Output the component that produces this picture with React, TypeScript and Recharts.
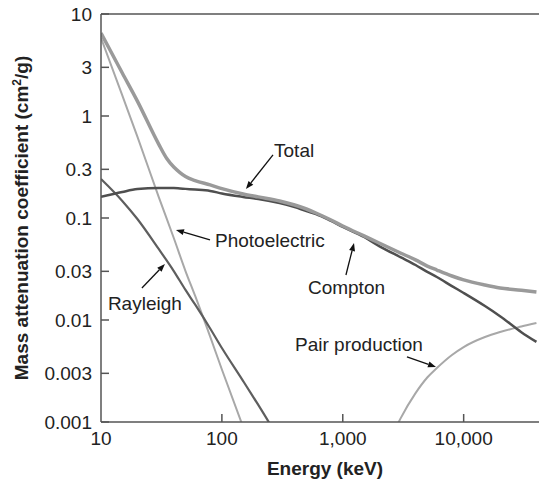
import { LineChart, Line, XAxis, YAxis, ReferenceLine, ReferenceDot, Label } from 'recharts'

// photon energy (keV) and mass attenuation coefficients (cm2/g)
const energies = [10, 15, 20, 30, 35, 40, 45, 50, 60, 80, 100, 150, 200, 300, 400, 500, 600, 800, 1000, 1500, 2000, 3000, 4000, 5000, 6000, 8000, 10000, 15000, 20000, 30000, 40000]
const totalCoef = [6.5, 2.64, 1.4, 0.53, 0.383, 0.316, 0.279, 0.255, 0.233, 0.211, 0.194, 0.172, 0.161, 0.147, 0.134, 0.1225, 0.112, 0.0955, 0.0835, 0.0667, 0.0569, 0.0454, 0.0388, 0.0338, 0.0309, 0.027, 0.0247, 0.022, 0.0206, 0.0196, 0.0188]
const comptonCoef = [0.161, 0.18, 0.192, 0.197, 0.197, 0.197, 0.195, 0.193, 0.19, 0.184, 0.174, 0.161, 0.1535, 0.14, 0.128, 0.117, 0.1095, 0.0935, 0.0817, 0.0652, 0.0531, 0.0413, 0.0346, 0.0296, 0.0264, 0.0215, 0.0184, 0.0137, 0.0109, 0.0076, 0.0061]

const photoEnergies = [10, 15, 20, 30, 40, 50, 60, 80, 100, 150]
const photoCoef = [5.82, 1.59, 0.628, 0.161, 0.0637, 0.0302, 0.0173, 0.00686, 0.00327, 0.00089]

const rayleighEnergies = [10, 15, 20, 30, 40, 50, 60, 80, 100, 150, 200, 300]
const rayleighCoef = [0.241, 0.147, 0.0977, 0.0497, 0.0302, 0.0197, 0.0142, 0.00826, 0.00531, 0.00252, 0.00147, 0.000667]

const pairEnergies = [2500, 3000, 4000, 5000, 6000, 8000, 10000, 15000, 20000, 30000, 40000]
const pairCoef = [0.000689, 0.00108, 0.00192, 0.00273, 0.00338, 0.00454, 0.00543, 0.00681, 0.00762, 0.00863, 0.00935]

const xTicks = [10, 100, 1000, 10000]
const yTicks = [0.001, 0.003, 0.01, 0.03, 0.1, 0.3, 1, 3, 10]

// annotations: label anchor and arrow (tail -> head), in data units
const labelNames = ['Total', 'Photoelectric', 'Rayleigh', 'Compton', 'Pair production']
const labelAt = [[270, 0.464], [87.7, 0.0609], [11.4, 0.0147], [515, 0.0211], [403, 0.00582]]
const arrowFrom = [[264.7, 0.415], [79.7, 0.0609], [21.8, 0.0206], [1062, 0.0276], [3396, 0.00434]]
const arrowTo = [[158, 0.192], [41.7, 0.0763], [33.8, 0.0354], [1239, 0.0569], [5903, 0.00346]]

const toRows = (xs: number[], ys: number[]) => xs.map((e, i) => ({ energy: e, value: ys[i] }))

const AXIS = '#555'
const TEXT = '#222'
const FONT = '"Liberation Sans", Arial, Helvetica, sans-serif'

function YTick({ x, y, payload }: any) {
  return (
    <g>
      <line x1={x} y1={y} x2={x + 8} y2={y} stroke={AXIS} strokeWidth={1.5} />
      <text x={x - 9} y={y} dy="0.36em" textAnchor="end" fontSize={19} fill={TEXT} fontFamily={FONT}>
        {String(payload.value)}
      </text>
    </g>
  )
}

function XTick({ x, y, payload }: any) {
  return (
    <g>
      {payload.value !== 10 && <line x1={x} y1={y} x2={x} y2={y - 8} stroke={AXIS} strokeWidth={1.5} />}
      <text x={x} y={y + 23} textAnchor="middle" fontSize={19} fill={TEXT} fontFamily={FONT}>
        {payload.value.toLocaleString('en-US')}
      </text>
    </g>
  )
}

function Arrow({ x1, y1, x2, y2 }: any) {
  const dx = x2 - x1
  const dy = y2 - y1
  const len = Math.sqrt(dx * dx + dy * dy) || 1
  const ux = dx / len
  const uy = dy / len
  const h = 8
  const w = 3
  const bx = x2 - ux * h
  const by = y2 - uy * h
  return (
    <g>
      <line x1={x1} y1={y1} x2={bx} y2={by} stroke="#111" strokeWidth={1.3} />
      <polygon points={`${x2},${y2} ${bx - uy * w},${by + ux * w} ${bx + uy * w},${by - ux * w}`} fill="#111" />
    </g>
  )
}

const textShape = (name: string) => (props: any) => (
  <text x={props.cx} y={props.cy} dy="0.36em" fontSize={19} fill={TEXT} fontFamily={FONT}>
    {name}
  </text>
)

export default function App() {
  return (
    <div style={{ position: 'absolute', left: 0, top: 0, background: '#fff' }}>
      <LineChart width={539} height={483} margin={{ top: 14, right: 0, bottom: 0, left: 0 }}>
        <XAxis
          dataKey="energy"
          type="number"
          scale="log"
          domain={[10, 42000]}
          allowDataOverflow
          ticks={xTicks}
          interval={0}
          tick={<XTick />}
          tickLine={false}
          tickSize={0}
          tickMargin={0}
          height={61}
          axisLine={{ stroke: AXIS, strokeWidth: 1.5 }}
        >
          <Label
            content={({ viewBox }: any) => (
              <text
                x={viewBox.x + viewBox.width / 2 + 5}
                y={viewBox.y + 53}
                textAnchor="middle"
                fontSize={19}
                fontWeight="bold"
                fill={TEXT}
                fontFamily={FONT}
              >
                Energy (keV)
              </text>
            )}
          />
        </XAxis>
        <YAxis
          type="number"
          scale="log"
          domain={[0.001, 10]}
          allowDataOverflow
          ticks={yTicks}
          interval={0}
          tick={<YTick />}
          tickLine={false}
          tickSize={0}
          tickMargin={0}
          width={101}
          axisLine={{ stroke: AXIS, strokeWidth: 1.5 }}
        >
          <Label
            content={({ viewBox }: any) => {
              const cx = 21
              const cy = viewBox.y + viewBox.height / 2
              return (
                <text
                  x={cx}
                  y={cy}
                  transform={`rotate(-90 ${cx} ${cy})`}
                  textAnchor="middle"
                  dy="0.36em"
                  fontSize={19}
                  fontWeight="bold"
                  fill={TEXT}
                  fontFamily={FONT}
                >
                  Mass attenuation coefficient (cm<tspan dy={-7} fontSize={12}>2</tspan>
                  <tspan dy={7}>/g)</tspan>
                </text>
              )
            }}
          />
        </YAxis>
        <ReferenceLine y={10} stroke={AXIS} strokeWidth={1.5} ifOverflow="visible" />

        <Line data={toRows(photoEnergies, photoCoef)} dataKey="value" type="monotone" stroke="#a8a8a8" strokeWidth={2} dot={false} isAnimationActive={false} />
        <Line data={toRows(rayleighEnergies, rayleighCoef)} dataKey="value" type="monotone" stroke="#5e5e5e" strokeWidth={2.2} dot={false} isAnimationActive={false} />
        <Line data={toRows(pairEnergies, pairCoef)} dataKey="value" type="monotone" stroke="#a8a8a8" strokeWidth={2} dot={false} isAnimationActive={false} />
        <Line data={toRows(energies, comptonCoef)} dataKey="value" type="monotone" stroke="#4f4f4f" strokeWidth={2.5} dot={false} isAnimationActive={false} />
        <Line data={toRows(energies, totalCoef)} dataKey="value" type="monotone" stroke="#9a9a9a" strokeWidth={3.5} dot={false} isAnimationActive={false} />

        {labelNames.map((name, i) => (
          <ReferenceLine
            key={'a' + name}
            segment={[
              { x: arrowFrom[i][0], y: arrowFrom[i][1] },
              { x: arrowTo[i][0], y: arrowTo[i][1] },
            ]}
            ifOverflow="visible"
            shape={(p: any) => <Arrow {...p} />}
          />
        ))}
        {labelNames.map((name, i) => (
          <ReferenceDot key={'t' + name} x={labelAt[i][0]} y={labelAt[i][1]} r={0} ifOverflow="visible" shape={textShape(name)} />
        ))}
      </LineChart>
    </div>
  )
}
